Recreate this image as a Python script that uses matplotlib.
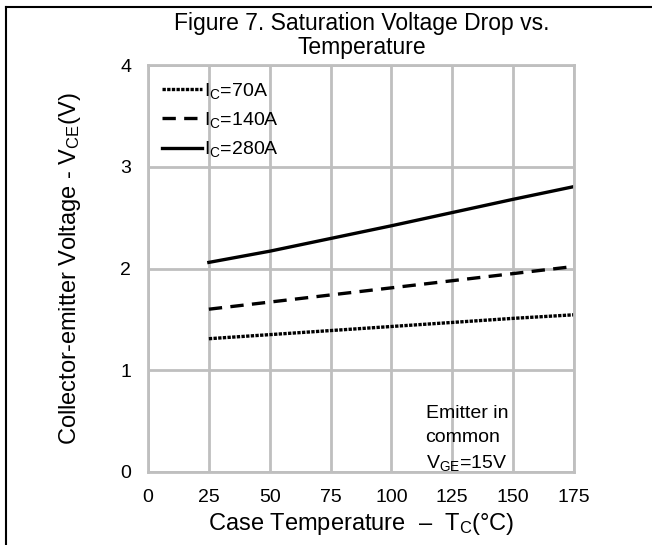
import matplotlib
matplotlib.use("Agg")
import matplotlib.pyplot as plt
from matplotlib.lines import Line2D

plt.rcParams['font.family'] = ['Liberation Sans', 'DejaVu Sans']
plt.rcParams['mathtext.fontset'] = 'custom'
plt.rcParams['mathtext.rm'] = 'Liberation Sans'
plt.rcParams['mathtext.it'] = 'Liberation Sans'

temps = [25, 50, 75, 100, 125, 150, 175]
vce_70 = [1.31, 1.35, 1.39, 1.43, 1.47, 1.51, 1.545]
vce_140 = [1.60, 1.67, 1.74, 1.81, 1.88, 1.95, 2.02]
vce_280 = [2.06, 2.17, 2.295, 2.42, 2.55, 2.68, 2.805]

xticks = [0, 25, 50, 75, 100, 125, 150, 175]
yticks = [0, 1, 2, 3, 4]

fig = plt.figure(figsize=(6.52, 5.45), dpi=100)
ax = fig.add_axes([148/652, 1-472/545, (574-148)/652, (472-65)/545])

grid_c = '#bfbfbf'
dot = (0, (1.0, 0.4))
dash = (0, (4, 2.5))
ax.plot(temps, vce_70, color='black', lw=2.4, ls=dot)
ax.plot(temps, vce_140, color='black', lw=2.4, ls=dash)
ax.plot(temps, vce_280, color='black', lw=2.4, ls='-')

ax.set_xlim(0, 175)
ax.set_ylim(0, 4)
ax.set_xticks(xticks)
ax.set_yticks(yticks)
ax.grid(True, color=grid_c, lw=2)
ax.set_axisbelow(True)
for s in ax.spines.values():
    s.set_color(grid_c)
    s.set_linewidth(2)
ax.tick_params(length=0, labelsize=14, pad=12)

ax.set_xlabel('Case Temperature  \u2013  T$_\\mathrm{C}$(°C)', fontsize=17, labelpad=4)
ax.set_ylabel('Collector-emitter Voltage - V$_\\mathrm{CE}$(V)', fontsize=17, labelpad=27)
fig.text(0.555, 1-12/545, 'Figure 7. Saturation Voltage Drop vs.\nTemperature', fontsize=16.5,
         ha='center', va='top', linespacing=1.08)

handles = [Line2D([], [], color='black', lw=2.4, ls=dot),
           Line2D([], [], color='black', lw=2.4, ls=dash),
           Line2D([], [], color='black', lw=2.4, ls='-')]
labels = ['I$_\\mathrm{C}$=70A', 'I$_\\mathrm{C}$=140A', 'I$_\\mathrm{C}$=280A']
ax.legend(handles, labels, loc='upper left', frameon=False, fontsize=14,
          handlelength=2.1, handletextpad=0.1, labelspacing=0.48,
          borderaxespad=0.3, bbox_to_anchor=(0.0, 0.995))

ax.text(114, -0.01, 'Emitter in\ncommon\nV$_\\mathrm{GE}$=15V', fontsize=14, ha='left', va='bottom',
        linespacing=1.5)

# outer frame lines
fig.add_artist(Line2D([6/652, 6/652], [0, 1-7/545], color='black', lw=1.5, transform=fig.transFigure))
fig.add_artist(Line2D([6/652, 1], [1-7/545, 1-7/545], color='black', lw=1.5, transform=fig.transFigure))

fig.savefig('out.png', dpi=100)
